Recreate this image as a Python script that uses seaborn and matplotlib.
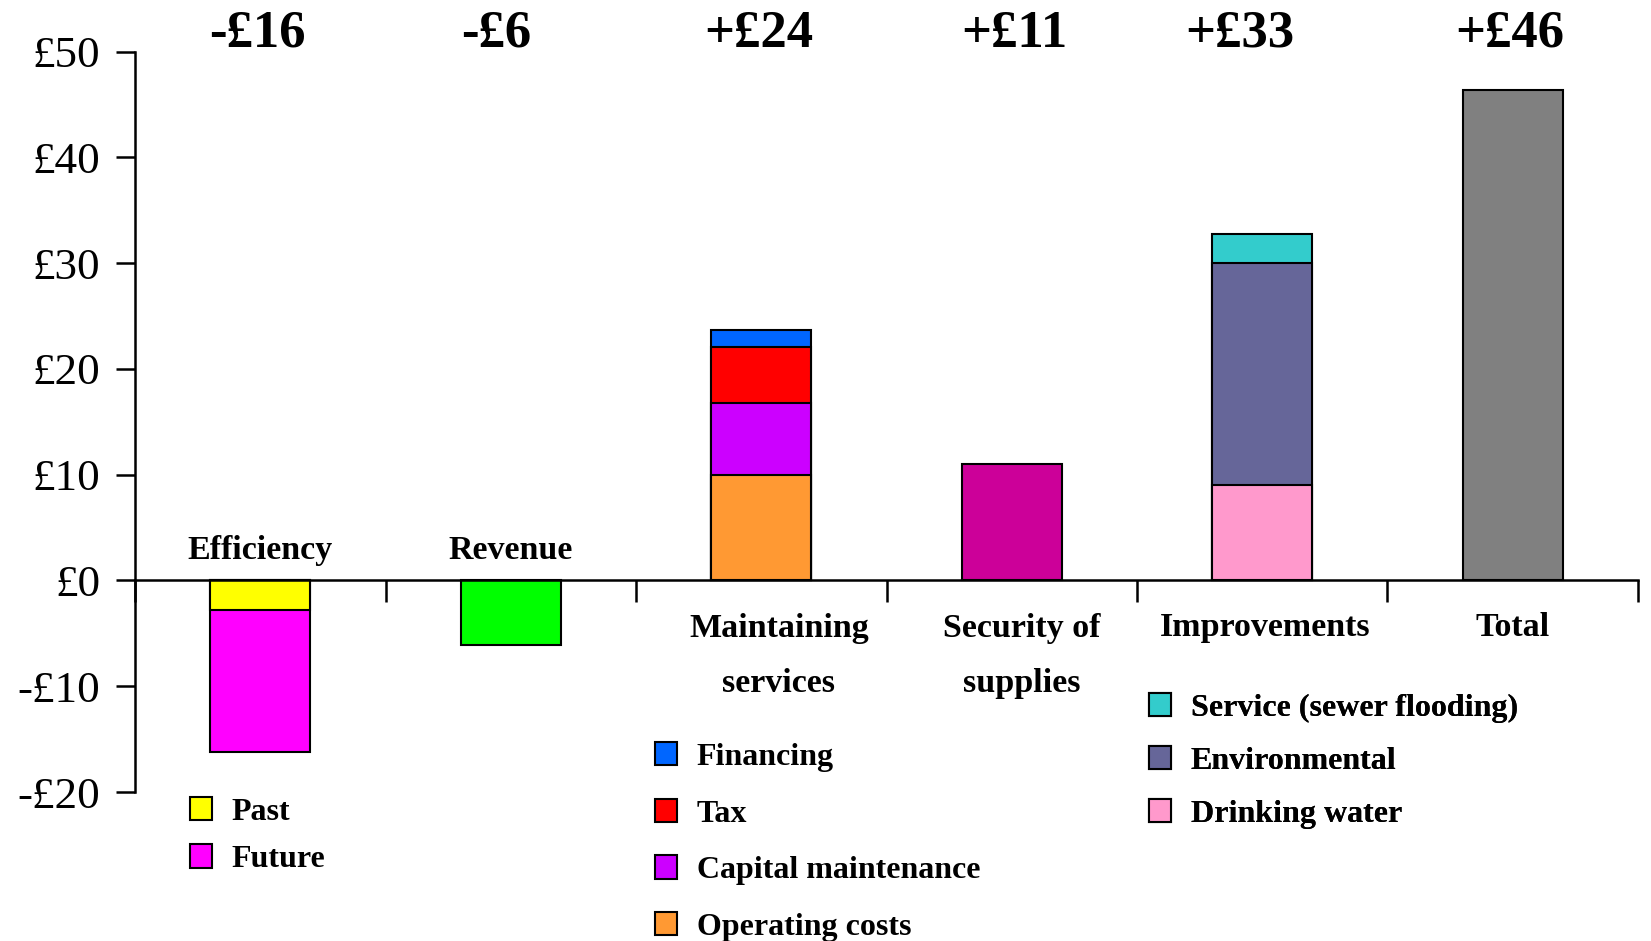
import numpy as np
import pandas as pd
import matplotlib
matplotlib.use("Agg")
import matplotlib.pyplot as plt
import matplotlib.patches as mpatches
import seaborn as sns

# ---------------- data ----------------
categories = ["Efficiency", "Revenue", "Maintaining services",
              "Security of supplies", "Improvements", "Total"]
category_labels = ["Efficiency", "Revenue", "Maintaining\nservices",
                   "Security of\nsupplies", "Improvements", "Total"]

# segments listed from the zero line outward within each category
segment_names = ["Past", "Future", "Revenue",
                 "Operating costs", "Capital maintenance", "Tax", "Financing",
                 "Security of supplies",
                 "Drinking water", "Environmental", "Service (sewer flooding)",
                 "Total"]
segment_category = ["Efficiency", "Efficiency", "Revenue",
                    "Maintaining services", "Maintaining services",
                    "Maintaining services", "Maintaining services",
                    "Security of supplies",
                    "Improvements", "Improvements", "Improvements",
                    "Total"]
segment_values = [-2.8, -13.4, -6.1,
                  10.0, 6.8, 5.3, 1.6,
                  11.0,
                  9.0, 21.0, 2.8,
                  46.4]
segment_colors = ["#FFFF00", "#FF00FF", "#00FF00",
                  "#FF9933", "#CC00FF", "#FF0000", "#0066FF",
                  "#CC0099",
                  "#FF99CC", "#666699", "#33CCCC",
                  "#808080"]

ytick_values = [-20, -10, 0, 10, 20, 30, 40, 50]
ytick_labels = ["-£20", "-£10", "£0", "£10", "£20", "£30", "£40", "£50"]

legend_groups = [
    ["Past", "Future"],
    ["Financing", "Tax", "Capital maintenance", "Operating costs"],
    ["Service (sewer flooding)", "Environmental", "Drinking water"],
]

# ---------------- frame ----------------
df = pd.DataFrame({"segment": segment_names,
                   "category": segment_category,
                   "value": segment_values})
df["order"] = range(len(df))
df["top"] = df.groupby("category")["value"].cumsum()
# draw outer layers first so inner layers overlay them
draw_df = df.sort_values(["category", "order"], ascending=[True, False])
hue_order = list(draw_df["segment"])
palette = dict(zip(segment_names, segment_colors))
totals = df.groupby("category")["value"].sum().reindex(categories)

# ---------------- style ----------------
sns.set_style("white")
plt.rcParams["font.family"] = ["Liberation Serif", "DejaVu Serif"]
plt.rcParams["axes.linewidth"] = 1.8
plt.rcParams["text.color"] = "black"
plt.rcParams["axes.edgecolor"] = "black"
plt.rcParams["xtick.color"] = "black"
plt.rcParams["ytick.color"] = "black"

fig = plt.figure(figsize=(16.51, 9.41), dpi=100)
ax = fig.add_axes([0.0818, 0.1583, 0.9103, 0.7869])

sns.barplot(data=draw_df, x="category", y="top", hue="segment",
            hue_order=hue_order, order=categories, palette=palette,
            dodge=False, width=0.4, saturation=1, errorbar=None,
            edgecolor="black", linewidth=1.5, legend=False, ax=ax)

ax.set_xlim(-0.5, len(categories) - 0.5)
ax.set_ylim(-20, 50)
ax.set_xlabel("")
ax.set_ylabel("")

for s in ["top", "right"]:
    ax.spines[s].set_visible(False)
ax.spines["bottom"].set_position(("data", 0))
for s in ["bottom", "left"]:
    ax.spines[s].set_linewidth(1.8)
    ax.spines[s].set_color("black")

ax.set_xticks(np.arange(-0.5, len(categories), 1.0))
ax.set_xticklabels([])
ax.tick_params(axis="x", bottom=True, direction="out", length=16, width=1.8,
               color="black")
ax.set_yticks(ytick_values)
ax.set_yticklabels(ytick_labels)
ax.tick_params(axis="y", left=True, direction="out", length=14, width=1.8,
               labelsize=32.5, pad=11, color="black", labelcolor="black")

# category labels
cat_label_pos = [(0.0, 2.8), (1.0, 2.8), (2.07, -7.1), (3.04, -7.1),
                 (4.01, -4.4), (5.0, -4.4)]
for lab, (xp, yp) in zip(category_labels, cat_label_pos):
    ax.text(xp, yp, lab, ha="center", va="center", fontsize=24.5,
            fontweight="bold", linespacing=2.0, multialignment="center",
            color="black")

# totals on top
top_x_offsets = [-0.01, -0.06, -0.01, 0.01, -0.09, -0.01]
for i, (cat, t) in enumerate(totals.items()):
    sign = "+" if t > 0 else "-"
    ax.text(i + top_x_offsets[i], 51.7, f"{sign}£{abs(t):.0f}",
            ha="center", va="center", fontsize=38, fontweight="bold",
            clip_on=False, color="black")

# legends
W, H = 1651.0, 941.0
legend_anchor = [(190, 797), (655, 742), (1149, 693)]
legend_spacing = [0.55, 0.84, 0.72]
for grp, (lx, ly), sp in zip(legend_groups, legend_anchor, legend_spacing):
    handles = [mpatches.Patch(facecolor=palette[n], edgecolor="black",
                              linewidth=1.5, label=n) for n in grp]
    leg = ax.legend(handles=handles, loc="upper left",
                    bbox_to_anchor=(lx / W, 1 - ly / H),
                    bbox_transform=fig.transFigure, frameon=False,
                    prop={"size": 23, "weight": "bold"},
                    handlelength=0.7, handleheight=0.75, handletextpad=0.6,
                    labelspacing=sp, borderpad=0, borderaxespad=0,
                    labelcolor="black")
    ax.add_artist(leg)

fig.savefig("out.png", dpi=100)
